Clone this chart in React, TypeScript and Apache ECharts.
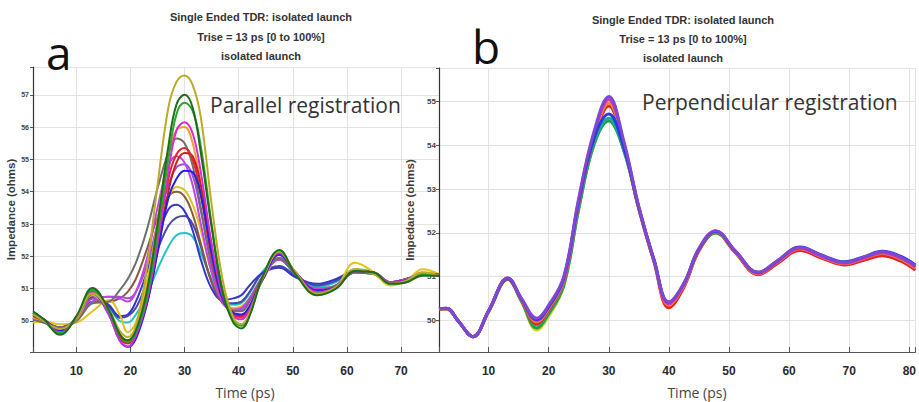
import React, { useEffect, useRef } from "react";
import * as echarts from "echarts";

// ---------- Panel a: parallel registration ----------
const leftTimes = [2, 4, 7, 10, 13, 16, 18, 19.5, 21, 23, 25, 27, 28.5, 30, 31.5, 33, 35, 37, 39, 40.5, 42, 44.5, 47.5, 50.5, 54.5, 58, 61.5, 65, 68, 71, 74, 77];

const aCyan = [50.1, 50.0, 49.8, 50.05, 50.7, 50.4, 50.0, 49.95, 50.2, 50.8, 51.6, 52.3, 52.65, 52.72, 52.6, 52.1, 51.3, 50.7, 50.5, 50.55, 50.85, 51.55, 51.9, 51.45, 51.05, 51.2, 51.6, 51.5, 51.2, 51.3, 51.5, 51.45];
const aSlate = [50.1, 50.0, 49.8, 50.05, 50.7, 50.45, 50.1, 50.15, 50.4, 51.2, 52.2, 52.95, 53.2, 53.25, 53.0, 52.3, 51.2, 50.6, 50.55, 50.6, 50.9, 51.5, 51.7, 51.4, 51.1, 51.25, 51.55, 51.45, 51.2, 51.3, 51.45, 51.45];
const aBlue2 = [50.1, 50.0, 49.8, 50.05, 50.75, 50.5, 50.15, 50.2, 50.6, 51.5, 52.6, 53.45, 53.6, 53.4, 52.8, 51.9, 51.0, 50.65, 50.7, 50.8, 51.1, 51.5, 51.65, 51.35, 51.15, 51.3, 51.55, 51.45, 51.2, 51.3, 51.45, 51.45];
const aBrown = [50.05, 49.95, 49.8, 50.0, 50.6, 50.6, 50.7, 50.9, 51.3, 52.2, 53.2, 53.85, 54.0, 53.85, 53.3, 52.4, 51.2, 50.55, 50.35, 50.4, 50.7, 51.35, 51.9, 51.45, 51.0, 51.1, 51.5, 51.45, 51.2, 51.3, 51.45, 51.45];
const aYellow = [49.95, 49.98, 49.9, 49.95, 50.3, 50.65, 50.2, 49.65, 49.95, 51.2, 52.8, 53.8, 54.15, 54.05, 53.6, 52.8, 51.5, 50.65, 50.4, 50.45, 50.7, 51.3, 51.95, 51.5, 50.8, 51.05, 51.8, 51.5, 51.1, 51.25, 51.6, 51.45];
const aPurple = [50.1, 50.0, 49.8, 50.05, 50.7, 50.75, 50.75, 50.7, 50.9, 51.7, 53.0, 54.2, 54.75, 54.85, 54.5, 53.4, 51.7, 50.6, 50.3, 50.35, 50.65, 51.4, 51.95, 51.45, 50.95, 51.1, 51.55, 51.45, 51.2, 51.3, 51.45, 51.45];
const aViolet = [50.05, 49.95, 49.8, 50.0, 50.6, 50.75, 50.7, 50.6, 50.9, 51.9, 53.5, 54.8, 55.1, 54.9, 54.2, 53.0, 51.5, 50.6, 50.35, 50.4, 50.7, 51.4, 51.9, 51.45, 51.0, 51.1, 51.5, 51.45, 51.2, 51.3, 51.45, 51.45];
const aGrey = [50.05, 49.95, 49.8, 50.0, 50.55, 50.6, 50.95, 51.3, 51.8, 52.8, 54.1, 55.2, 55.65, 55.5, 54.8, 53.5, 51.8, 50.7, 50.3, 50.3, 50.6, 51.4, 51.95, 51.45, 50.95, 51.1, 51.5, 51.45, 51.2, 51.3, 51.45, 51.45];
const aOrange = [50.1, 50.0, 49.75, 50.05, 50.8, 50.3, 49.6, 49.4, 49.75, 51.0, 53.1, 55.2, 55.9, 56.0, 55.5, 54.2, 52.2, 50.8, 50.2, 50.1, 50.4, 51.3, 52.05, 51.5, 50.9, 51.05, 51.6, 51.45, 51.15, 51.25, 51.5, 51.45];
const aRed2 = [50.15, 50.0, 49.72, 50.1, 50.9, 50.3, 49.55, 49.35, 49.6, 50.5, 52.2, 54.0, 54.9, 55.2, 55.1, 54.2, 52.3, 50.8, 50.2, 50.15, 50.45, 51.35, 52.1, 51.5, 50.9, 51.05, 51.55, 51.5, 51.2, 51.25, 51.45, 51.45];
const aRed = [50.2, 50.05, 49.7, 50.1, 50.95, 50.3, 49.5, 49.3, 49.6, 50.7, 52.6, 54.4, 55.15, 55.35, 55.0, 53.9, 52.0, 50.7, 50.2, 50.13, 50.4, 51.35, 52.1, 51.5, 50.9, 51.05, 51.55, 51.5, 51.2, 51.25, 51.45, 51.45];
const aBlue = [50.2, 50.05, 49.7, 50.1, 50.85, 50.2, 49.4, 49.2, 49.45, 50.5, 52.1, 53.8, 54.4, 54.65, 54.6, 53.9, 52.1, 50.7, 50.25, 50.2, 50.45, 51.3, 52.05, 51.5, 50.95, 51.05, 51.55, 51.5, 51.2, 51.25, 51.45, 51.45];
const aMagenta = [50.25, 50.0, 49.65, 50.1, 50.9, 50.2, 49.4, 49.2, 49.55, 50.6, 52.4, 54.6, 55.9, 56.15, 55.8, 54.6, 52.4, 50.8, 50.15, 50.05, 50.35, 51.35, 52.1, 51.5, 50.9, 51.05, 51.55, 51.5, 51.2, 51.25, 51.45, 51.45];
const aGreen = [50.25, 50.0, 49.62, 50.1, 50.95, 50.3, 49.55, 49.35, 49.65, 50.7, 52.7, 55.0, 56.4, 56.75, 56.5, 55.4, 53.0, 51.0, 50.05, 49.85, 50.2, 51.4, 52.15, 51.45, 50.85, 51.05, 51.55, 51.5, 51.15, 51.2, 51.45, 51.4];
const aOlive = [50.2, 50.0, 49.75, 50.1, 50.85, 50.35, 49.7, 49.5, 49.85, 51.6, 54.2, 56.6, 57.4, 57.6, 57.3, 56.3, 53.6, 51.3, 50.1, 49.9, 50.25, 51.35, 52.15, 51.5, 50.85, 51.05, 51.6, 51.45, 51.15, 51.25, 51.5, 51.4];
const aDarkGreen = [50.3, 50.05, 49.57, 50.15, 51.02, 50.35, 49.6, 49.4, 49.7, 50.9, 53.0, 55.4, 56.7, 57.0, 56.6, 55.2, 52.9, 50.9, 49.95, 49.77, 50.15, 51.4, 52.2, 51.45, 50.8, 51.0, 51.55, 51.5, 51.15, 51.2, 51.4, 51.4];

const leftCurves = [aCyan, aSlate, aBlue2, aBrown, aYellow, aPurple, aViolet, aGrey, aOrange, aRed2, aRed, aBlue, aMagenta, aGreen, aOlive, aDarkGreen];
const leftColors = ["#22c3c9", "#4a4aa6", "#3535cc", "#8a5a3c", "#e2c21c", "#9a50d8", "#c244e6", "#6e6e6e", "#f0a030", "#c81e1e", "#e82222", "#2222e0", "#d82ad8", "#2aa52a", "#bcaa2a", "#1f6c1f"];

// ---------- Panel b: perpendicular registration ----------
const rightTimes = [1.75, 3, 5, 7.4, 10, 13.2, 15.5, 18, 20, 22.5, 25, 27.5, 30, 32.5, 35, 37.5, 40, 42.5, 45, 47.8, 51, 54.9, 58, 61.8, 65.5, 69.2, 72.5, 75.5, 78.5, 81];

const bYellow = [50.26, 50.27, 49.98, 49.63, 50.2, 50.93, 50.42, 49.78, 50.1, 50.78, 52.55, 54.02, 54.6, 53.9, 52.56, 51.37, 50.37, 50.8, 51.6, 52.0, 51.56, 51.06, 51.31, 51.62, 51.44, 51.29, 51.41, 51.53, 51.42, 51.21];
const bGreen = [50.26, 50.27, 49.98, 49.63, 50.2, 50.94, 50.43, 49.83, 50.15, 50.8, 52.55, 54.0, 54.56, 53.88, 52.55, 51.37, 50.36, 50.8, 51.6, 52.0, 51.56, 51.06, 51.31, 51.62, 51.44, 51.29, 51.41, 51.53, 51.42, 51.21];
const bTeal = [50.26, 50.27, 49.98, 49.63, 50.21, 50.95, 50.45, 49.9, 50.2, 50.85, 52.6, 54.05, 54.62, 53.9, 52.55, 51.37, 50.38, 50.82, 51.62, 52.02, 51.58, 51.08, 51.33, 51.64, 51.46, 51.31, 51.43, 51.55, 51.44, 51.23];
const bRed = [50.26, 50.27, 49.98, 49.63, 50.21, 50.95, 50.46, 49.93, 50.24, 50.9, 52.68, 54.15, 54.9, 53.98, 52.55, 51.35, 50.29, 50.76, 51.6, 52.02, 51.56, 51.05, 51.3, 51.6, 51.42, 51.27, 51.38, 51.48, 51.36, 51.15];
const bOrange = [50.26, 50.27, 49.98, 49.63, 50.22, 50.96, 50.47, 49.97, 50.27, 50.92, 52.7, 54.2, 54.97, 54.0, 52.56, 51.37, 50.35, 50.8, 51.62, 52.03, 51.57, 51.07, 51.33, 51.64, 51.45, 51.3, 51.42, 51.53, 51.41, 51.2];
const bMagenta = [50.27, 50.28, 49.98, 49.63, 50.22, 50.97, 50.48, 50.0, 50.3, 50.95, 52.75, 54.25, 55.05, 54.05, 52.58, 51.38, 50.38, 50.82, 51.63, 52.04, 51.58, 51.08, 51.34, 51.65, 51.46, 51.31, 51.43, 51.55, 51.43, 51.22];
const bBlue = [50.27, 50.28, 49.98, 49.63, 50.22, 50.96, 50.49, 50.02, 50.32, 50.97, 52.72, 54.15, 54.72, 53.95, 52.58, 51.4, 50.42, 50.85, 51.64, 52.04, 51.6, 51.1, 51.36, 51.68, 51.49, 51.34, 51.46, 51.58, 51.47, 51.27];
const bPurple = [50.27, 50.28, 49.98, 49.63, 50.22, 50.97, 50.5, 50.05, 50.35, 51.0, 52.8, 54.3, 55.12, 54.1, 52.6, 51.4, 50.42, 50.85, 51.65, 52.05, 51.6, 51.1, 51.36, 51.67, 51.48, 51.33, 51.45, 51.57, 51.45, 51.25];

const rightCurves = [bYellow, bGreen, bTeal, bRed, bOrange, bMagenta, bBlue, bPurple];
const rightColors = ["#d8d020", "#22a040", "#1aa8a0", "#e82020", "#f08a20", "#d030d0", "#2a3ae0", "#8048d0"];

const titleLines = ["Single Ended TDR: isolated launch", "Trise = 13 ps [0 to 100%]", "isolated launch"];
const panelLabels = ["a", "b"];
const panelNotes = ["Parallel registration", "Perpendicular registration"];
const xName = "Time (ps)";
const yName = "Impedance (ohms)";

const tickFont = '"Liberation Sans", Arial, sans-serif';

function makeX(grid: number, min: number, max: number) {
  return {
    type: "value",
    gridIndex: grid,
    min,
    max,
    minInterval: 10,
    maxInterval: 10,
    splitNumber: 8,
    axisLine: { show: true, onZero: false, lineStyle: { color: "#555", width: 1 } },
    axisTick: { show: true, inside: true, length: 5, lineStyle: { color: "#555" } },
    axisLabel: {
      fontSize: 12,
      fontWeight: "bold",
      color: "#2a2a2a",
      fontFamily: tickFont,
      margin: 13,
      formatter: (v: number) => (Math.abs(v % 10) < 1e-9 ? String(v) : ""),
    },
    splitLine: { show: true, lineStyle: { color: "#e2e2e2", width: 1 } },
  };
}

function makeY(grid: number, min: number, max: number, fontSize: number, margin: number, nameGap: number) {
  return {
    type: "value",
    gridIndex: grid,
    min,
    max,
    minInterval: 1,
    maxInterval: 1,
    splitNumber: 8,
    name: yName,
    nameLocation: "middle",
    nameGap,
    nameTextStyle: { fontSize: 11.5, fontWeight: "bold", color: "#3a3a3a", fontFamily: tickFont },
    axisLine: { show: true, onZero: false, lineStyle: { color: "#333", width: 1.2 } },
    axisTick: { show: true, inside: false, length: 3, lineStyle: { color: "#555" } },
    axisLabel: {
      fontSize,
      fontWeight: "bold",
      color: "#444",
      fontFamily: tickFont,
      margin,
      formatter: (v: number) => (Math.abs(v - Math.round(v)) < 1e-9 ? String(v) : ""),
    },
    splitLine: { show: true, lineStyle: { color: "#e2e2e2", width: 1 } },
  };
}

function textEl(text: string, x: number, y: number, size: number, weight: string, family: string, color: string, align = "center") {
  return {
    type: "text",
    x,
    y,
    silent: true,
    z: 100,
    style: {
      text,
      fill: color,
      fontSize: size,
      fontWeight: weight,
      fontFamily: family,
      align,
      verticalAlign: "middle",
      textAlign: align,
      textVerticalAlign: "middle",
    },
  };
}

export default function App() {
  const ref = useRef<HTMLDivElement>(null);

  useEffect(() => {
    if (!ref.current) return;
    const chart = echarts.init(ref.current, undefined, { renderer: "svg" });

    const series: any[] = [];
    leftCurves.forEach((vals, k) => {
      series.push({
        type: "line",
        xAxisIndex: 0,
        yAxisIndex: 0,
        data: leftTimes.map((t, i) => [t, vals[i]]),
        smooth: 0.4,
        symbol: "none",
        silent: true,
        clip: false,
        lineStyle: { width: 2, color: leftColors[k] },
      });
    });
    rightCurves.forEach((vals, k) => {
      series.push({
        type: "line",
        xAxisIndex: 1,
        yAxisIndex: 1,
        data: rightTimes.map((t, i) => [t, vals[i]]),
        smooth: 0.4,
        symbol: "none",
        silent: true,
        lineStyle: { width: 3, color: rightColors[k] },
      });
    });

    const sans = '"Open Sans", "Noto Sans", sans-serif';
    const graphics: any[] = [];
    const titleY = [[17, 37, 56], [20, 39, 58]];
    const titleX = [261, 683];
    [0, 1].forEach((p) => {
      titleLines.forEach((line, i) => {
        graphics.push(textEl(line, titleX[p], titleY[p][i], 11, "bold", tickFont, "#333"));
      });
    });
    graphics.push(textEl(panelLabels[0], 46, 52, 46, "normal", sans, "#111", "left"));
    graphics.push(textEl(panelLabels[1], 472, 46, 46, "normal", sans, "#111", "left"));
    graphics.push(textEl(panelNotes[0], 210, 105, 21, "normal", sans, "#333", "left"));
    graphics.push(textEl(panelNotes[1], 642, 102, 21, "normal", sans, "#333", "left"));
    graphics.push(textEl(xName, 245, 392, 14, "normal", sans, "#444"));
    graphics.push(textEl(xName, 697, 392, 14, "normal", sans, "#444"));

    chart.setOption({
      animation: false,
      backgroundColor: "#ffffff",
      grid: [
        { left: 33, top: 67, width: 406, height: 285 },
        { left: 439, top: 68, width: 480, height: 284 },
      ],
      xAxis: [makeX(0, 2, 77), makeX(1, 1.75, 81)],
      yAxis: [makeY(0, 49.04, 57.86, 7, 4, 10), makeY(1, 49.28, 55.77, 8, 3, 12)],
      series,
      graphic: graphics,
    });

    return () => chart.dispose();
  }, []);

  return (
    <div
      ref={ref}
      style={{ position: "absolute", left: 0, top: 0, width: 919, height: 402, background: "#fff" }}
    />
  );
}
